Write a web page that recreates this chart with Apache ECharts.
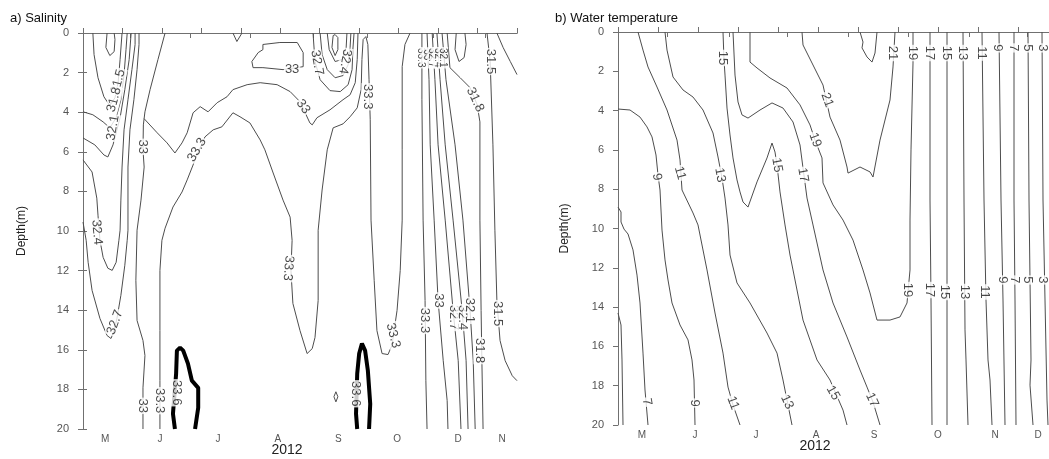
<!DOCTYPE html>
<html>
<head>
<meta charset="utf-8">
<script src="https://cdn.jsdelivr.net/npm/echarts@6/dist/echarts.min.js"></script>
<style>
  html, body { margin: 0; padding: 0; background: #fff; }
  #chart { width: 1049px; height: 459px; }
</style>
</head>
<body>
<div id="chart"></div>
<script>
/* 两幅等值线剖面图：盐度 / 水温  (x = 时间刻度单位, y = 深度 m) */

// 底部月份标签与分隔刻度
const monthsA = ["M", "J", "J", "A", "S", "O", "D", "N"];
const monthMidA = [5.6, 19.5, 34.2, 49.4, 64.7, 79.6, 95.1, 106.2];
const monthEdgeA = [0, 11.9, 27.1, 42.3, 58.3, 72, 88.7, 101.9];
const monthsB = ["M", "J", "J", "A", "S", "O", "N", "D"];
const monthMidB = [6, 19.25, 34.5, 49.5, 64, 80, 94.25, 105];
const monthEdgeB = [0, 12.25, 27.75, 42.25, 57.5, 72.5, 87.75, 102.25];

// ---- a) 盐度等值线 [t, depth] ----
const s312a = [[6.1,0],[5.8,0.73],[6.8,1.14],[7.9,0.94],[8.1,0.33],[7.9,0]];
const s315a = [[2.5,0],[2.8,1.09],[3.8,2.26],[5.3,3.22],[6.8,3.67],[8.1,3.27],[8.9,2.51],[9.4,1.34],[9.9,0]];
const s318a = [[0,3.98],[2.5,4.13],[5.1,4.49],[6.8,4.79],[8.4,4.28],[9.6,3.37],[10.4,2.10],[10.9,0.84],[11.2,0]];
const s321a = [[0,5.30],[3.0,5.65],[5.3,6.16],[6.3,6.26],[7.6,5.65],[9.4,4.28],[10.6,2.86],[11.7,1.34],[12.2,0]];
const s324a = [[0,6.41],[2.3,7.02],[3.5,8.34],[3.8,9.20],[4.3,10.47],[5.1,11.33],[6.3,11.88],[7.4,11.99],[8.4,11.58],[9.1,10.47],[9.4,9.96],[9.6,8.44],[9.9,6.77],[10.4,4.89],[11.4,3.37],[12.4,1.85],[13.2,0.58],[13.2,0]];
const s327a = [[0,9.55],[0.8,10.47],[1.3,11.58],[2.3,13.00],[4.3,14.42],[6.1,15.28],[7.1,15.43],[7.9,15.03],[8.6,14.42],[9.6,13.25],[10.6,11.73],[11.2,10.47],[11.4,9.96],[11.4,6.77],[11.9,4.89],[12.9,3.37],[13.7,1.85],[14.2,0.58],[14.2,0]];
const s330a = [[20.8,0],[19.0,1.34],[17.0,2.86],[15.7,3.98],[15.3,4.64],[15.2,5.9],[15.5,6.77],[14.7,8.44],[13.7,9.96],[13.4,12.49],[13.7,14.52],[15.2,15.53],[15.7,16.29],[15.2,17.92],[15.2,20]];
const s330b = [[15.5,4.33],[18.8,5.04],[21.3,5.55],[23.3,6.06],[25.1,5.55],[26.4,5.04],[27.9,4.03],[29.7,3.72],[31.7,3.98],[34.0,3.52],[36.5,3.22],[38.0,2.86],[41.6,2.61],[44.9,2.51],[49.2,2.61],[52.5,2.96],[55.0,3.47],[57.5,4.54],[58.1,4.64],[59.3,4.28],[62.6,3.88],[65.9,3.37],[67.7,3.12],[69.0,2.51],[69.5,1.34],[69.7,0]];
const s330loop = [[45.6,0.58],[49.9,0.48],[54.3,0.48],[55.8,0.99],[55.8,1.70],[50.7,1.85],[45.6,1.75],[43.1,1.75],[42.8,1.44],[44.4,0.99],[45.6,0.84],[45.6,0.58]];
const s327b = [[58.3,0],[58.8,1.44],[60.1,2.36],[62.6,2.91],[65.2,2.96],[67.2,2.61],[68.2,1.85],[68.4,0.84],[68.7,0]];
const s324b = [[60.1,0],[60.6,1.09],[61.9,1.85],[63.9,2.26],[65.9,2.15],[67.2,1.60],[67.7,0.73],[67.9,0]];
const s321b = [[61.9,0],[62.4,0.84],[63.9,1.44],[65.7,1.34],[66.7,0.73],[66.9,0]];
const s318b = [[63.4,0.13],[63.1,0.73],[63.9,1.14],[64.6,0.84],[64.6,0.23],[63.9,0.08],[63.4,0.13]];
const sDip = [[38.0,0],[39.0,0.43],[40.3,0]];
const s333a = [[19.5,20],[19.5,17.56],[19.5,15.03],[19.5,11.99],[20.0,10.47],[20.8,9.86],[22.8,8.79],[25.1,8.03],[26.4,7.42],[28.9,6.16],[30.9,5.25],[33.0,4.89],[35.2,4.74],[38.0,4.03],[39.8,4.23],[42.3,4.54],[44.9,5.40],[46.1,5.90],[48.2,7.07],[50.7,8.44],[52.5,9.30],[53.0,10.47],[52.7,11.99],[53.2,13.66],[55.0,15.03],[56.8,16.19],[58.1,15.94],[58.8,15.38],[59.6,13.51],[59.6,9.96],[60.6,7.93],[61.9,5.90],[63.4,4.79],[65.9,4.59],[67.7,4.23],[69.5,3.78],[70.5,2.86],[70.7,1.34],[71.0,0.33],[71.7,0.18],[72.2,0.58],[72.5,2.36],[72.8,4.38],[73.0,9.45],[73.8,12.49],[74.5,15.03],[75.8,16.19],[77.3,16.24],[78.3,15.78],[79.6,14.01],[80.4,11.99],[80.9,9.45],[80.9,5.90],[80.9,1.70],[81.6,0.58],[82.9,0]];
const s333b = [[85.9,0],[85.9,3.37],[86.2,9.45],[86.7,13.51],[86.9,17.56],[87.2,20]];
const s330d = [[87.2,0],[87.7,2.36],[88.0,5.65],[89.0,9.45],[90.0,13.51],[91.3,16.55],[92.3,18.57],[92.5,20]];
const s327c = [[88.5,0],[89.2,2.36],[90.0,5.65],[91.8,9.45],[93.8,14.01],[95.1,16.55],[95.8,20]];
const s324c = [[89.7,0],[90.5,2.36],[91.8,5.65],[93.8,9.45],[96.1,14.01],[97.1,16.55],[97.6,20]];
const s321c = [[91.0,0],[92.0,2.36],[94.3,5.65],[96.3,9.45],[98.1,14.01],[98.9,16.55],[99.4,20]];
const s318c = [[92.3,0],[93.0,1.75],[95.6,2.26],[98.1,2.76],[99.9,3.62],[100.6,4.49],[100.6,9.45],[100.9,14.01],[101.1,16.55],[101.4,20]];
const s315c = [[94.6,0],[94.3,0.84],[95.3,1.44],[96.6,1.24],[97.1,0.58],[96.8,0]];
const s315d = [[102.4,0],[103.2,1.44],[103.9,5.65],[104.4,9.96],[104.9,13.51],[105.7,15.53],[107.0,16.55],[108.8,17.31],[110,17.56]];
const s312b = [[104.9,0],[106.5,0.74],[108.3,1.44],[110,2.1]];
const s336c = [[64.1,18.12],[63.6,18.37],[64.1,18.63],[64.6,18.37],[64.1,18.12]];
// 33.6 粗线
const s336a = [[23.3,20],[22.8,19.23],[23.6,17.21],[23.8,16.04],[24.6,15.89],[25.4,16.04],[26.6,16.70],[27.6,17.56],[29.2,17.92],[29.2,18.93],[28.4,20]];
const s336b = [[69.5,20],[69.2,19.23],[69.5,17.21],[70.0,16.19],[70.7,15.68],[71.5,16.04],[72.2,17.05],[72.8,18.73],[72.5,20]];

const salinityLines = [s312a, s315a, s318a, s321a, s324a, s327a, s330a, s330b, s330loop, s327b, s324b, s321b, s318b, sDip,
  s333a, s333b, s330d, s327c, s324c, s321c, s318c, s315c, s315d, s312b, s336c];
const salinityBold = [s336a, s336b];

// [t, depth, 文字, 旋转角]
const salinityLabels = [
  [8.9,2.46,"31.5",75],[7.9,3.37,"31.8",75],[7.6,4.79,"32.1",80],[3.5,10.06,"32.4",-85],[8.1,14.62,"32.7",70],
  [15.2,5.75,"33",-90],[15.2,18.83,"33",-90],[19.5,18.57,"33.3",-90],[28.9,5.9,"33.3",60],[55.8,3.72,"33",-55],
  [53.0,1.85,"33",0],[59.3,1.5,"32.7",-80],[66.4,1.44,"32.4",-100],[72.2,3.22,"33.3",-90],[52.0,11.88,"33.3",-95],
  [78.6,15.28,"33.3",-75],[23.6,18.17,"33.6",-90],[69.2,18.22,"33.6",-90],[86.7,14.52,"33.3",-90],[90.0,13.51,"33",-90],
  [93.8,14.37,"32.7",-90],[96.1,14.37,"32.4",-90],[98.1,14.01,"32.1",-90],[100.6,16.04,"31.8",-90],[105.2,14.17,"31.5",-90],
  [99.4,3.37,"31.8",-65],[103.2,1.44,"31.5",-90]
];
const salinityCrowdLabels = [
  [85.6,1.25,"33.3",-90],[87.1,1.1,"33",-90],[88.5,1.25,"32.7",-90],[89.9,1.25,"32.4",-90],[91.3,1.25,"32.1",-90]
];

// ---- b) 水温等值线 [t, depth] ----
const w5 = [[0,14.30],[0.75,14.91],[1.0,16.69],[1.25,20]];
const w7 = [[0,8.91],[0.75,9.16],[0.75,9.67],[1.5,10.03],[2.5,10.28],[3.75,11.09],[4.75,12.37],[5.5,13.79],[6.25,16.34],[6.75,18.22],[7.5,20]];
const w9 = [[0,3.92],[3,3.97],[5.5,4.33],[7.25,4.83],[8.5,5.34],[9.5,6.26],[10,7.28],[10.5,8.04],[11,10.08],[11.75,11.60],[12.5,12.62],[13.5,13.79],[15.5,14.91],[17.5,15.67],[18.5,16.69],[19,17.71],[19.25,20]];
const w11 = [[5,0],[6.25,0.92],[7.5,1.78],[9.75,2.80],[12.25,3.97],[14.75,5.50],[15.5,6.51],[16,8.04],[18.75,9.21],[20,9.82],[22.25,12.11],[24.25,14.30],[26.25,16.34],[27.5,18.07],[28.75,18.98],[30.5,20]];
const w13 = [[11.75,0],[12.25,0.92],[13.75,2.29],[16.25,2.95],[18.75,3.31],[21.25,3.97],[23.75,5.14],[25,6.36],[26,7.43],[26.75,8.45],[27.5,9.82],[28,11.35],[29.75,12.77],[33,13.79],[37.25,15.32],[39.75,16.34],[41.25,17.71],[42.25,18.73],[43.5,20]];
const w15a = [[26.25,0],[26.5,1.42],[26.75,2.19],[27.25,3.87],[28,5.24],[28.75,6.41],[29.75,7.53],[30.5,8.14],[31.25,8.65],[32.5,8.91],[34.75,7.63],[37.25,6.41],[38.5,5.65],[39.25,6.11],[39.75,6.77],[40.5,8.14],[41.75,9.82],[43,11.35],[43.75,12.11],[46.25,14.66],[49.75,16.69],[53,17.71],[56.25,19.24],[57.25,20]];
const w17 = [[28.75,0],[29.25,2.19],[30,3.56],[31,4.22],[32.5,4.38],[35.5,3.97],[38.5,3.61],[41.25,3.87],[43.75,4.58],[45.5,5.75],[46.25,6.92],[47.25,8.45],[48.75,9.82],[51.25,12.11],[53.75,13.79],[57.25,15.52],[60.5,17.20],[62.25,18.07],[63.75,18.83],[65.5,20]];
const w19 = [[33,0],[33,1.53],[34.75,1.83],[38,2.34],[42.25,2.85],[45.5,3.71],[48,4.73],[49.25,5.50],[51,6.41],[51.25,7.68],[53.75,8.80],[56.25,9.57],[58.75,10.59],[61.25,12.11],[63,13.28],[64.75,14.66],[68,14.66],[70.5,14.50],[72.25,13.79],[73,12.11],[73,9.57],[73.25,6.0],[73.75,1.58],[73.75,0]];
const w21 = [[46,0],[46.25,0.66],[48.75,1.68],[51.25,2.70],[53,4.33],[55.5,5.50],[57.25,6.87],[57.5,7.18],[60.5,6.87],[63,7.12],[63.75,7.38],[65.5,5.50],[68,3.46],[68.75,1.78],[69.25,0]];
const w21b = [[60.5,0],[61.25,0.51],[61,0.81],[62.25,1.27],[63.5,1.53],[64.25,1.07],[64.75,0]];
const w17b = [[78,0],[78,8.55],[78.25,13.64],[78.5,20]];
const w15b = [[82.25,0],[82.25,8.55],[82.25,13.64],[82.25,20]];
const w13b = [[86.25,0],[86.5,8.55],[86.75,15.16],[87,16.69],[87.5,20]];
const w11b = [[91,0],[91.5,8.55],[92,13.64],[92.5,16.69],[93,17.71],[93.5,20]];
const w9b = [[95.25,0],[95.75,8.55],[96.25,13.64],[96.75,20]];
const w7b = [[99,0],[99,8.55],[99.25,13.64],[99.5,20]];
const w5b = [[102.5,0],[102.75,8.55],[103.25,16.69],[103,17.97],[103.75,20]];
const w3 = [[106,0],[106.25,8.55],[106.75,13.64],[107.25,18.73],[107.5,20]];

const tempLines = [w5, w7, w9, w11, w13, w15a, w17, w19, w21, w21b, w17b, w15b, w13b, w11b, w9b, w7b, w5b, w3];

const tempLabels = [
  [9.75,7.38,"9",-80],[15.5,7.18,"11",-75],[25.5,7.28,"13",-80],[26.25,1.32,"15",-90],[39.75,6.77,"15",-80],
  [46.25,7.28,"17",-80],[49.25,5.5,"19",-70],[52.25,3.46,"21",-70],
  [7.25,18.83,"7",-80],[19.25,18.88,"9",-90],[28.75,18.88,"11",-70],[42.25,18.83,"13",-65],[53.75,18.37,"15",-60],[63.5,18.73,"17",-65],
  [72.5,13.13,"19",-90],[78,13.13,"17",-90],[81.75,13.23,"15",-90],[86.75,13.23,"13",-90],[91.75,13.23,"11",-90],
  [96.25,12.62,"9",-90],[99.25,12.62,"7",-90],[102.5,12.62,"5",-90],[106.25,12.62,"3",-90],
  [68.75,1.07,"21",-90],[73.75,1.07,"19",-90],[78,1.07,"17",-90],[82.25,1.07,"15",-90],[86.25,1.07,"13",-90],
  [91,1.07,"11",-90],[95,0.81,"9",-90],[99,0.81,"7",-90],[102.5,0.81,"5",-90],[106.25,0.81,"3",-90]
];

const FONT = "Liberation Sans, Arial, sans-serif";
const AXIS_COLOR = "#707070";
const LINE_COLOR = "#4d4d4d";

function contour(pts, axisIdx, bold) {
  return {
    type: "line",
    xAxisIndex: axisIdx.x,
    yAxisIndex: axisIdx.y,
    data: pts,
    symbol: "none",
    silent: true,
    z: bold ? 3 : 2,
    lineStyle: { color: bold ? "#000" : LINE_COLOR, width: bold ? 4 : 1 }
  };
}

function labelSeries(list, axisIdx, size) {
  return {
    type: "scatter",
    xAxisIndex: axisIdx.x,
    yAxisIndex: axisIdx.y,
    symbolSize: 1,
    silent: true,
    z: 5,
    itemStyle: { color: "rgba(0,0,0,0)" },
    label: {
      show: true,
      position: "inside",
      formatter: "{b}",
      fontFamily: FONT,
      fontSize: size,
      color: "#1a1a1a",
      backgroundColor: "#fff",
      padding: [0, 1]
    },
    data: list.map((l) => ({ value: [l[0], l[1]], name: l[2], label: { rotate: l[3] } }))
  };
}

function nearestLabel(v, mids, names) {
  let best = 0;
  mids.forEach((m, i) => { if (Math.abs(m - v) < Math.abs(mids[best] - v)) best = i; });
  return names[best];
}

function bottomAxis(grid, max, mids, edges, names, pad) {
  return {
    type: "value", gridIndex: grid, position: "bottom", min: 0, max: max,
    axisLine: { lineStyle: { color: AXIS_COLOR } },
    axisTick: { show: true, length: 5, customValues: edges, lineStyle: { color: AXIS_COLOR } },
    axisLabel: {
      customValues: mids, fontFamily: FONT, fontSize: 10, color: "#555", margin: 5,
      formatter: (v) => nearestLabel(v, mids, names)
    },
    splitLine: { show: false },
    name: "2012", nameLocation: "middle", nameGap: 14, nameMoveOverlap: false,
    nameTextStyle: { fontFamily: FONT, fontSize: 14, color: "#222", padding: [0, pad, 0, 0] }
  };
}

function topAxis(grid, max) {
  return {
    type: "value", gridIndex: grid, position: "top", min: 0, max: max, interval: 10,
    axisLine: { lineStyle: { color: AXIS_COLOR } },
    axisTick: { show: true, length: 5, lineStyle: { color: AXIS_COLOR } },
    axisLabel: { show: false },
    splitLine: { show: false }
  };
}

function depthAxis(grid, gap) {
  return {
    type: "value", gridIndex: grid, inverse: true, min: 0, max: 20, interval: 2,
    axisLine: { show: true, lineStyle: { color: AXIS_COLOR } },
    axisTick: { show: true, length: 5, lineStyle: { color: AXIS_COLOR } },
    axisLabel: { fontFamily: FONT, fontSize: 11, color: "#555", margin: 14 },
    splitLine: { show: false },
    name: "Depth(m)",
    nameLocation: "middle", nameGap: gap,
    nameTextStyle: { fontFamily: FONT, fontSize: 12, color: "#222" }
  };
}

const A = { x: 0, y: 0 };
const B = { x: 2, y: 2 };

const chart = echarts.init(document.getElementById("chart"), null, { renderer: "canvas" });
chart.setOption({
  animation: false,
  backgroundColor: "#fff",
  title: [
    { text: "a) Salinity", left: 10, top: 12, padding: 0,
      textStyle: { fontFamily: FONT, fontSize: 13, fontWeight: "normal", color: "#111" } },
    { text: "b) Water temperature", left: 555, top: 12, padding: 0,
      textStyle: { fontFamily: FONT, fontSize: 13, fontWeight: "normal", color: "#111" } }
  ],
  grid: [
    { left: 83, top: 33, width: 434, height: 396, outerBoundsMode: "none" },
    { left: 618, top: 32, width: 431, height: 393, outerBoundsMode: "none" }
  ],
  xAxis: [
    bottomAxis(0, 110, monthMidA, monthEdgeA, monthsA, 26),
    topAxis(0, 110),
    bottomAxis(1, 107.75, monthMidB, monthEdgeB, monthsB, 37),
    topAxis(1, 107.75)
  ],
  yAxis: [
    depthAxis(0, 55),
    {
      type: "value", gridIndex: 0, position: "right", inverse: true, min: 0, max: 20, interval: 2,
      axisLine: { show: true, lineStyle: { color: AXIS_COLOR } },
      axisTick: { show: true, length: 4, lineStyle: { color: AXIS_COLOR } },
      axisLabel: { show: false },
      splitLine: { show: false }
    },
    depthAxis(1, 47)
  ],
  series: [
    ...salinityLines.map((p) => contour(p, A, false)),
    ...salinityBold.map((p) => contour(p, A, true)),
    labelSeries(salinityLabels, A, 13),
    labelSeries(salinityCrowdLabels, A, 10),
    ...tempLines.map((p) => contour(p, B, false)),
    labelSeries(tempLabels, B, 13)
  ]
});
</script>
</body>
</html>
